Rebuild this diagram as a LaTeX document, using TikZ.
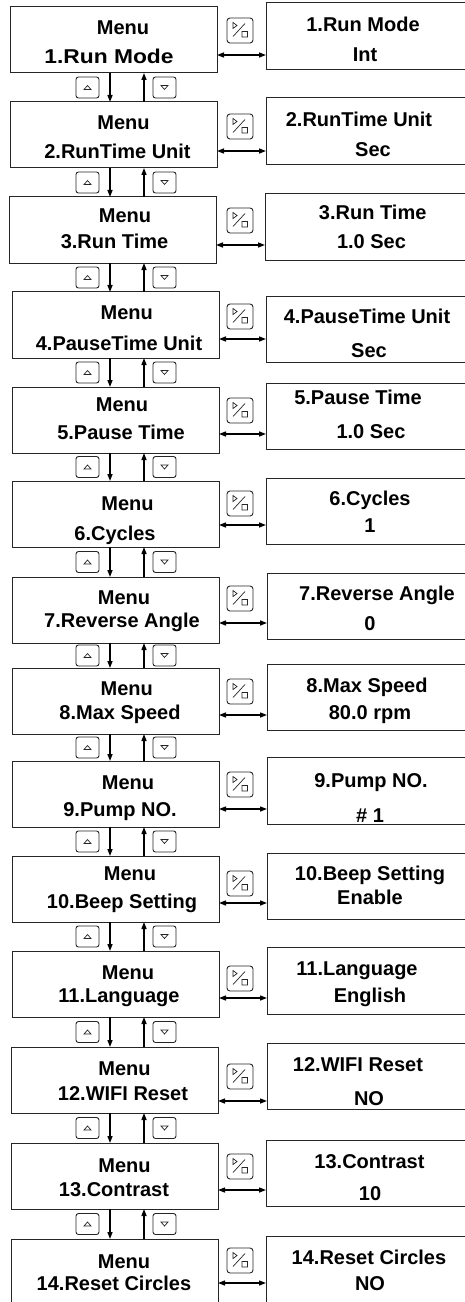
\documentclass[tikz,border=0pt]{standalone}
\usepackage{fontspec}
\usepackage{graphicx}
\setmainfont{Liberation Sans}
\usetikzlibrary{arrows.meta,calc}
\newcommand\pcticon[1]{\draw[icon,shift={(#1.center)}] (-7,-8) -- (-7,-2) -- (-3,-5) -- cycle (-7,6) -- (5,-7) (2,1) rectangle (7.5,6.5);}
\newcommand\upicon[1]{\draw[icon,shift={(#1.center)}] (-3.5,2) -- (3.5,2) -- (0,-2) -- cycle;}
\newcommand\dnicon[1]{\draw[icon,shift={(#1.center)}] (-3.5,-2) -- (3.5,-2) -- (0,2) -- cycle;}
\begin{document}
\begin{tikzpicture}[x=1bp,y=-1bp,
  lbox/.style={draw=black!85, line width=1bp, anchor=north west, minimum width=207bp, minimum height=66bp, inner sep=0pt, outer sep=0pt},
  rbox/.style={draw=black!85, line width=1bp, anchor=north west, minimum width=220bp, minimum height=66bp, inner sep=0pt, outer sep=0pt},
  txt/.style={anchor=base, inner sep=0pt, font=\fontsize{20bp}{24bp}\selectfont\bfseries},
  pbtn/.style={draw=black!85, line width=0.9bp, rounded corners=3bp, minimum width=26bp, minimum height=25bp, inner sep=0pt},
  ubtn/.style={draw=black!85, line width=0.9bp, rounded corners=2.5bp, minimum width=23bp, minimum height=21bp, inner sep=0pt},
  icon/.style={line width=0.7bp, draw=black!85},
  varr/.style={-{Triangle[length=7bp,width=5bp]}, line width=1.3bp},
  harr/.style={{Triangle[length=7bp,width=5bp]}-{Triangle[length=7bp,width=5bp]}, line width=1.3bp},
]
\useasboundingbox (0,0) rectangle (465,1302);
\coordinate (cdn) at (110,0);
\coordinate (cup) at (144,0);
\coordinate (cux) at (87.5,0);
\coordinate (cdx) at (164.5,0);

% left menu boxes
\foreach \i/\lx/\lt/\mx/\my/\ix/\iy/\itx in {
  1/10/7/123/28/109/57/{\scalebox{1.14}[1]{1.Run Mode}},
  2/10/102/123.5/123/117.5/152/{2.RunTime Unit},
  3/9/197/125/216/114.5/242/{3.Run Time},
  4/12/292/126.7/313/119/343/{4.PauseTime Unit},
  5/12/387/122/404/121/432/{5.Pause Time},
  6/12/481/127.5/503/115/533/{6.Cycles},
  7/12/577/124/597/122/620/{7.Reverse Angle},
  8/12/668/126.7/688/120/712/{8.Max Speed},
  9/12/761/128/782/120/809/{9.Pump NO.},
  10/12/856/130/873/122/901/{10.Beep Setting},
  11/12/951/128/972/119/995/{11.Language},
  12/11/1047/124.5/1068/123/1093/{12.WIFI Reset},
  13/11/1143/124.5/1165/114/1189/{13.Contrast},
  14/11/1239/124/1261/114/1283/{14.Reset Circles}}
{
  \node[lbox] (L\i) at (\lx,\lt) {};
  \node[txt] (M\i) at (\mx,\my+7) {Menu};
  \node[txt] (I\i) at (\ix,\iy+7) {\itx};
}

% right value boxes
\foreach \i/\rx/\rt/\rh/\ax/\ay/\atx/\bx/\by/\btx in {
  1/266/3/67/363/25/{1.Run Mode}/365/55/{Int},
  2/266/98/67/359/120/{2.RunTime Unit}/373/150/{Sec},
  3/265/194/66/372.7/213/{3.Run Time}/371.5/242/{1.0 Sec},
  4/266/297/65/367/317/{4.PauseTime Unit}/369/350/{Sec},
  5/266/383/66/358/397/{5.Pause Time}/371/431/{1.0 Sec},
  6/266/478/66/370/498/{6.Cycles}/370/525/{1},
  7/267/573/66/377/593/{7.Reverse Angle}/370/623/{0},
  8/267/664/66/367/685/{8.Max Speed}/370/712/{80.0 rpm},
  9/267/757/67/371/780/{9.Pump NO.}/370/815/{\# 1},
  10/267/853/66/370/873/{10.Beep Setting}/370/897/{Enable},
  11/267/947/67/357/968/{11.Language}/370/995/{English},
  12/267/1043/66/358/1064/{12.WIFI Reset}/369/1098/{NO},
  13/266/1140/66/369.5/1161/{13.Contrast}/370/1193/{10},
  14/266/1236/80/369/1257/{14.Reset Circles}/370/1283/{NO}}
{
  \node[rbox, minimum height=\rh bp] (R\i) at (\rx,\rt) {};
  \node[txt] (A\i) at (\ax,\ay+7) {\atx};
  \node[txt] (B\i) at (\bx,\by+7) {\btx};
}

% enter buttons and two-way arrows
\foreach \i/\py/\hy in {1/30.5/55, 2/126.5/151, 3/220.5/245, 4/316.5/339, 5/410.5/434,
  6/503.5/525, 7/598.5/623, 8/691.5/715, 9/784.5/809, 10/883.5/903, 11/978.5/998,
  12/1076.5/1101, 13/1166.5/1190, 14/1260.5/1283}
{
  \node[pbtn] (P\i) at (240,\py) {};
  \pcticon{P\i}
  \coordinate (h\i) at (0,\hy);
  \draw[harr] (L\i.east |- h\i) -- (R\i.west |- h\i);
}

% up / down navigation
\foreach \i [evaluate=\i as \j using int(\i+1)] in {1,...,13}
{
  \draw[varr] (L\i.south -| cdn) -- (L\j.north -| cdn);
  \draw[varr] (L\j.north -| cup) -- (L\i.south -| cup);
  \node[ubtn] (U\i) at ($(L\i.south -| cux)!0.5!(L\j.north -| cux)$) {};
  \upicon{U\i}
  \node[ubtn] (D\i) at ($(L\i.south -| cdx)!0.5!(L\j.north -| cdx)$) {};
  \dnicon{D\i}
}
\end{tikzpicture}
\end{document}
